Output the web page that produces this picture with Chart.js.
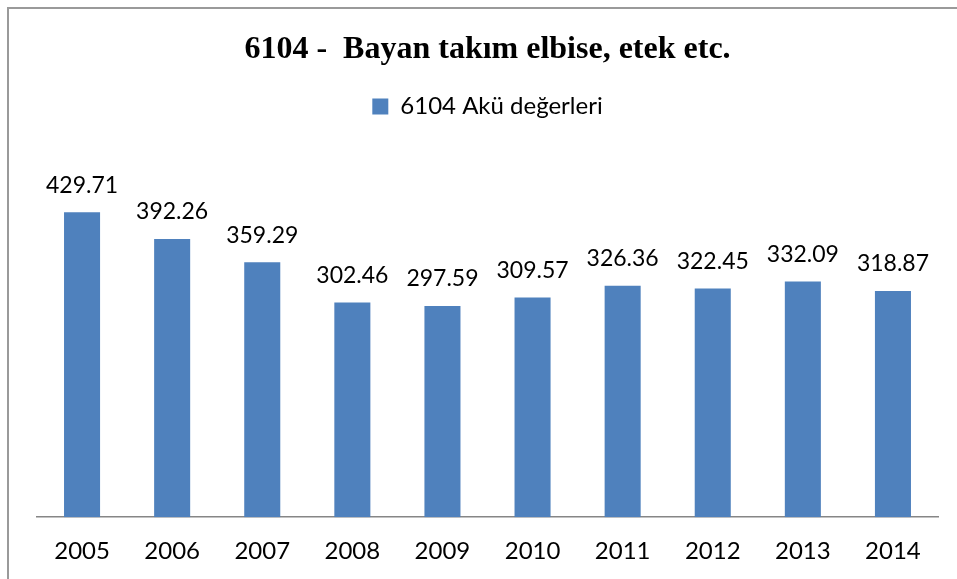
<!DOCTYPE html>
<html>
<head>
<meta charset="utf-8">
<script src="https://cdn.jsdelivr.net/npm/chart.js@4.4.0/dist/chart.umd.min.js"></script>
<style>
  html, body { margin: 0; padding: 0; background: #fff; overflow: hidden; }
  #frame { position: absolute; left: 7px; top: 7px; width: 980px; height: 620px;
           border-left: 2px solid #9a9a9a; border-top: 2px solid #9a9a9a; box-sizing: border-box; }
  #wrap { position: absolute; left: 0; top: 0; width: 957px; height: 579px; }
</style>
</head>
<body>
<div id="frame"></div>
<div id="wrap"><canvas id="c" width="957" height="579"></canvas></div>
<script>
const categories = ['2005','2006','2007','2008','2009','2010','2011','2012','2013','2014'];
const seriesName = '6104 Akü değerleri';
const values = [429.71, 392.26, 359.29, 302.46, 297.59, 309.57, 326.36, 322.45, 332.09, 318.87];
const titleText = '6104 -  Bayan takım elbise, etek etc.';

const labelFont = 'Lato, "Open Sans", sans-serif';

const valueLabels = {
  id: 'valueLabels',
  afterDatasetsDraw(chart) {
    const ctx = chart.ctx;
    const meta = chart.getDatasetMeta(0);
    ctx.save();
    ctx.font = '23px ' + labelFont;
    ctx.fillStyle = '#000';
    ctx.textAlign = 'center';
    ctx.textBaseline = 'middle';
    meta.data.forEach((bar, i) => {
      ctx.fillText(values[i].toFixed(2), bar.x, bar.y - 27);
    });
    ctx.restore();
  }
};

new Chart(document.getElementById('c'), {
  type: 'bar',
  data: {
    labels: categories,
    datasets: [{
      label: seriesName,
      data: values,
      backgroundColor: '#4F81BD',
      borderWidth: 0,
      barPercentage: 0.4,
      categoryPercentage: 1.0
    }]
  },
  options: {
    responsive: false,
    animation: false,
    devicePixelRatio: 1,
    layout: { padding: { left: 37, right: 19, top: 0, bottom: -7 } },
    plugins: {
      title: {
        display: true,
        text: titleText,
        color: '#000',
        font: { family: '"Liberation Serif", "Times New Roman", serif', size: 32, weight: 'bold' },
        padding: { top: 31, bottom: 15 }
      },
      legend: {
        display: true,
        position: 'top',
        labels: {
          color: '#000',
          font: { family: labelFont, size: 24 },
          boxWidth: 16,
          boxHeight: 16,
          padding: 10
        }
      },
      tooltip: { enabled: false }
    },
    scales: {
      x: {
        grid: { display: false, drawTicks: false },
        border: { display: true, color: '#868686', width: 1.5 },
        ticks: { color: '#000', font: { family: labelFont, size: 24 }, padding: 20 }
      },
      y: {
        display: false,
        min: 0,
        max: 548
      }
    }
  },
  plugins: [valueLabels]
});
</script>
</body>
</html>
